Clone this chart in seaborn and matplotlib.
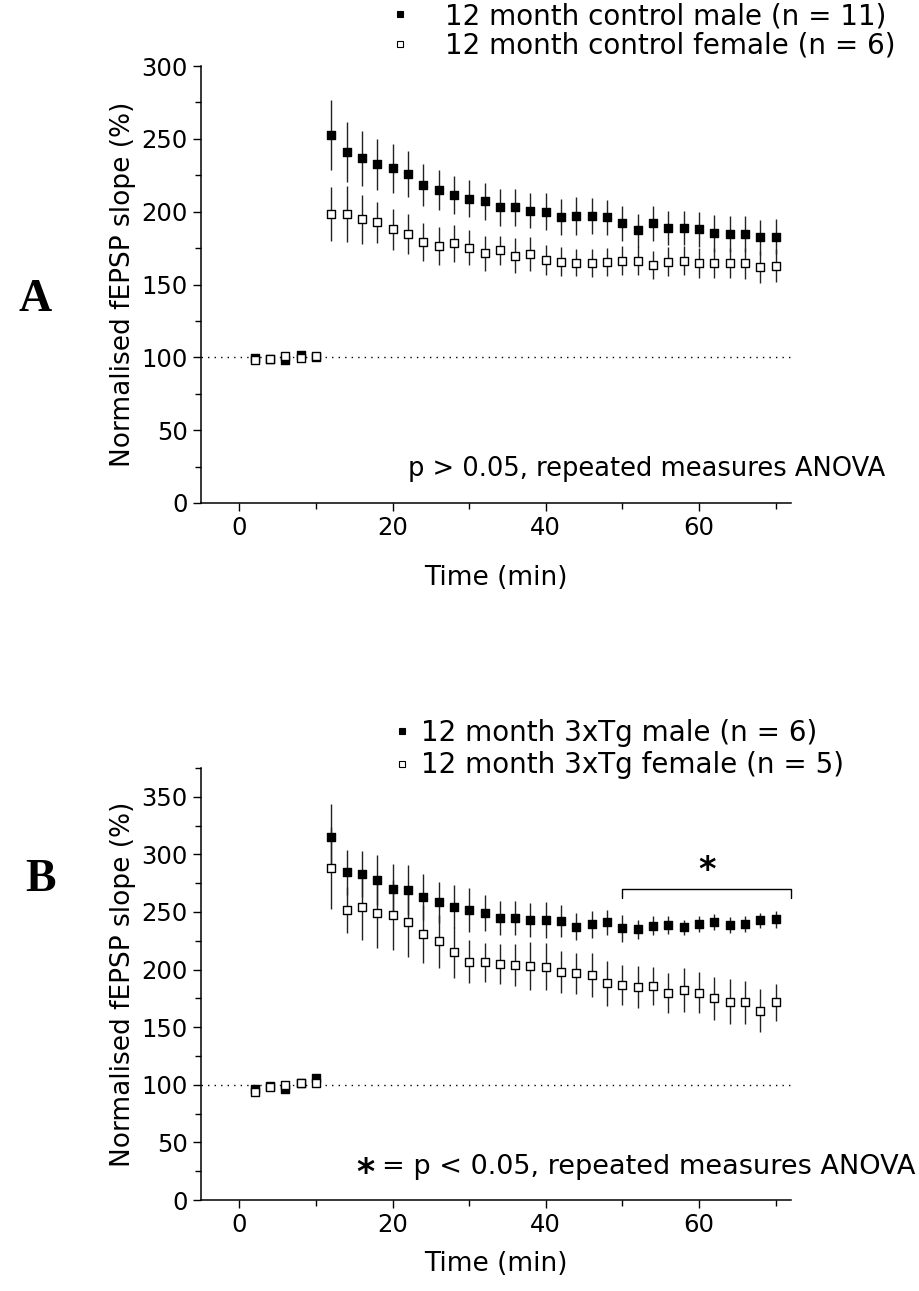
import matplotlib
matplotlib.use("Agg")
import matplotlib.pyplot as plt
from matplotlib.lines import Line2D
from matplotlib.ticker import MultipleLocator
import pandas as pd
import seaborn as sns

# sampling times (min)
time_min = [2, 4, 6, 8, 10, 12, 14, 16, 18, 20, 22, 24, 26, 28, 30, 32, 34, 36,
            38, 40, 42, 44, 46, 48, 50, 52, 54, 56, 58, 60, 62, 64, 66, 68, 70]

# panel A: 12 month control
ctrl_male = [99.5, 98.8, 98.5, 101.5, 100.5,
             252.6, 240.7, 236.6, 232.5, 229.7, 225.8, 218.3, 215.1, 211.6, 208.9,
             207.1, 203.0, 203.0, 200.6, 200.0, 196.5, 196.9, 197.2, 196.1, 192.0,
             187.2, 192.0, 188.7, 188.7, 187.8, 185.1, 184.6, 184.8, 182.3, 182.8]
ctrl_male_sem = [1.5, 1.5, 1.5, 1.5, 1.5,
                 24.0, 20.6, 18.9, 17.5, 16.7, 15.6, 14.6, 13.7, 13.2, 12.8,
                 12.6, 12.6, 12.6, 12.0, 12.6, 12.5, 12.9, 12.4, 12.2, 11.8,
                 11.4, 12.2, 11.7, 11.7, 12.2, 12.5, 12.2, 12.2, 12.0, 12.0]
ctrl_female = [98.5, 99.0, 101.0, 99.5, 101.0,
               198.1, 198.6, 194.7, 192.7, 187.9, 184.4, 179.4, 176.6, 178.2, 175.2,
               171.4, 173.6, 169.7, 170.9, 166.8, 165.6, 164.9, 164.9, 165.6, 166.3,
               166.3, 163.4, 165.6, 166.3, 164.9, 164.9, 164.9, 164.5, 162.2, 162.9]
ctrl_female_sem = [1.5, 1.5, 1.5, 1.5, 1.5,
                   18.5, 19.1, 16.9, 14.1, 14.0, 13.7, 13.0, 13.0, 12.5, 12.0,
                   12.0, 10.0, 12.0, 11.4, 10.3, 10.0, 9.2, 9.5, 9.8, 10.0,
                   10.0, 9.8, 10.0, 10.0, 10.5, 10.5, 10.5, 10.8, 11.0, 11.4]

# panel B: 12 month 3xTg
tg_male = [96.0, 99.0, 96.0, 101.5, 105.6,
           315.4, 284.4, 283.0, 277.8, 270.0, 269.1, 262.7, 258.4, 254.6, 251.7,
           248.8, 244.5, 244.5, 242.8, 243.1, 242.2, 237.3, 239.3, 241.0, 235.8,
           235.0, 238.1, 238.7, 236.7, 239.3, 241.6, 238.7, 239.3, 242.8, 243.6]
tg_male_sem = [2.0, 2.0, 2.0, 2.0, 2.0,
               28.0, 19.7, 19.7, 22.0, 22.0, 22.0, 20.0, 17.8, 18.8, 19.0,
               15.6, 14.8, 14.8, 14.9, 15.6, 13.7, 12.0, 11.6, 11.0, 11.9,
               8.1, 8.0, 8.0, 6.5, 6.8, 6.8, 7.2, 7.0, 6.5, 7.7]
tg_female = [94.0, 98.4, 99.8, 101.8, 101.3,
             288.5, 251.7, 254.0, 249.4, 247.4, 241.0, 230.9, 224.8, 215.0, 206.9,
             206.3, 204.9, 204.0, 203.1, 202.5, 197.6, 196.8, 195.3, 188.1, 186.6,
             184.6, 185.8, 179.4, 182.3, 180.0, 175.1, 172.2, 171.6, 164.3, 171.6]
tg_female_sem = [2.5, 2.5, 2.5, 2.5, 2.5,
                 35.5, 20.0, 28.0, 31.0, 30.0, 30.0, 25.0, 23.0, 22.0, 18.8,
                 16.8, 17.6, 18.2, 20.8, 20.2, 18.2, 18.0, 18.8, 19.7, 17.4,
                 18.2, 16.5, 17.4, 19.4, 18.0, 18.8, 19.4, 18.8, 18.8, 15.9]

labels_a = ["12 month control male (n = 11)", "12 month control female (n = 6)"]
labels_b = ["12 month 3xTg male (n = 6)", "12 month 3xTg female (n = 5)"]
sig_range = [50, 72]

sns.set_style("ticks")
plt.rcParams["font.family"] = ["DejaVu Sans"]
plt.rcParams["text.color"] = "black"
plt.rcParams["axes.labelcolor"] = "black"
plt.rcParams["xtick.major.size"] = 6
plt.rcParams["ytick.major.size"] = 6
plt.rcParams["xtick.minor.size"] = 4
plt.rcParams["ytick.minor.size"] = 4

fig = plt.figure(figsize=(9.19, 12.91), dpi=100)
W, H = 919, 1291
ax_a = fig.add_axes([201 / W, 1 - 503 / H, 590 / W, 437 / H])
ax_b = fig.add_axes([201 / W, 1 - 1200 / H, 590 / W, 432 / H])


def draw_panel(ax, male, male_sem, female, female_sem, ytop, xpad):
    df = pd.DataFrame({"time": time_min, "male": male, "male_sem": male_sem,
                       "female": female, "female_sem": female_sem})
    ax.axhline(100, color="black", lw=1, ls=(0, (1, 3.7)), zorder=1)
    ax.errorbar(df["time"], df["male"], yerr=df["male_sem"], fmt="none",
                ecolor="#222222", elinewidth=1, capsize=0, zorder=2)
    ax.errorbar(df["time"], df["female"], yerr=df["female_sem"], fmt="none",
                ecolor="#222222", elinewidth=1, capsize=0, zorder=2)
    sns.scatterplot(data=df, x="time", y="male", marker="s", s=40, color="black",
                    edgecolor="black", linewidth=1, ax=ax, zorder=3)
    sns.scatterplot(data=df, x="time", y="female", marker="s", s=40, color="white",
                    edgecolor="black", linewidth=1, ax=ax, zorder=4)
    ax.set_xlim(-5, 72)
    ax.set_ylim(0, ytop)
    ax.xaxis.set_major_locator(MultipleLocator(20))
    ax.xaxis.set_minor_locator(MultipleLocator(10))
    ax.yaxis.set_major_locator(MultipleLocator(50))
    ax.yaxis.set_minor_locator(MultipleLocator(25))
    ax.tick_params(axis="both", which="both", direction="out", width=1, labelsize=17.5,
                   colors="black")
    for side in ["top", "right"]:
        ax.spines[side].set_visible(False)
    for side in ["left", "bottom"]:
        ax.spines[side].set_linewidth(1.1)
        ax.spines[side].set_color("black")
    ax.set_xlabel("Time (min)", fontsize=19, labelpad=xpad)
    ax.set_ylabel("Normalised fEPSP slope (%)", fontsize=19, labelpad=4)


def add_legend(ax, labels, x0, y0, textpad, spacing):
    handles = [
        Line2D([], [], ls="none", marker="s", markersize=5, markerfacecolor="black",
               markeredgecolor="black", markeredgewidth=0.8),
        Line2D([], [], ls="none", marker="s", markersize=5, markerfacecolor="white",
               markeredgecolor="black", markeredgewidth=0.8),
    ]
    ax.legend(handles, labels, loc="upper left", bbox_to_anchor=(x0 / W, 1 - y0 / H),
              bbox_transform=fig.transFigure, frameon=False, fontsize=20,
              handlelength=0.6, handletextpad=textpad, labelspacing=spacing,
              borderpad=0, borderaxespad=0, labelcolor="black")


draw_panel(ax_a, ctrl_male, ctrl_male_sem, ctrl_female, ctrl_female_sem, 300, 18)
draw_panel(ax_b, tg_male, tg_male_sem, tg_female, tg_female_sem, 375, 10)

add_legend(ax_a, labels_a, 392, 2, 1.31, 0.06)
add_legend(ax_b, labels_b, 394, 719, 0.38, 0.16)

ax_a.text(1.159, 0.078, "p > 0.05, repeated measures ANOVA", transform=ax_a.transAxes,
          ha="right", va="center", fontsize=18.5)

# significance bracket
ax_b.plot([sig_range[0], sig_range[0], sig_range[1], sig_range[1]], [262, 270, 270, 262],
          color="black", lw=1, clip_on=False)
ax_b.text(sum(sig_range) / 2, 272, "*", ha="center", va="bottom", fontsize=24,
          fontweight="bold")

ax_b.text(1.21, 0.076, "= p < 0.05, repeated measures ANOVA", transform=ax_b.transAxes,
          ha="right", va="center", fontsize=19.5)
ax_b.text(0.279, 0.062, "*", transform=ax_b.transAxes, ha="center", va="center",
          fontsize=25, fontweight="bold")

fig.text(35 / W, 1 - 300 / H, "A", family=["Liberation Serif", "DejaVu Serif"],
         fontweight="bold", fontsize=33, ha="center", va="center")
fig.text(40 / W, 1 - 880 / H, "B", family=["Liberation Serif", "DejaVu Serif"],
         fontweight="bold", fontsize=33, ha="center", va="center")

fig.savefig("out.png", dpi=100)
